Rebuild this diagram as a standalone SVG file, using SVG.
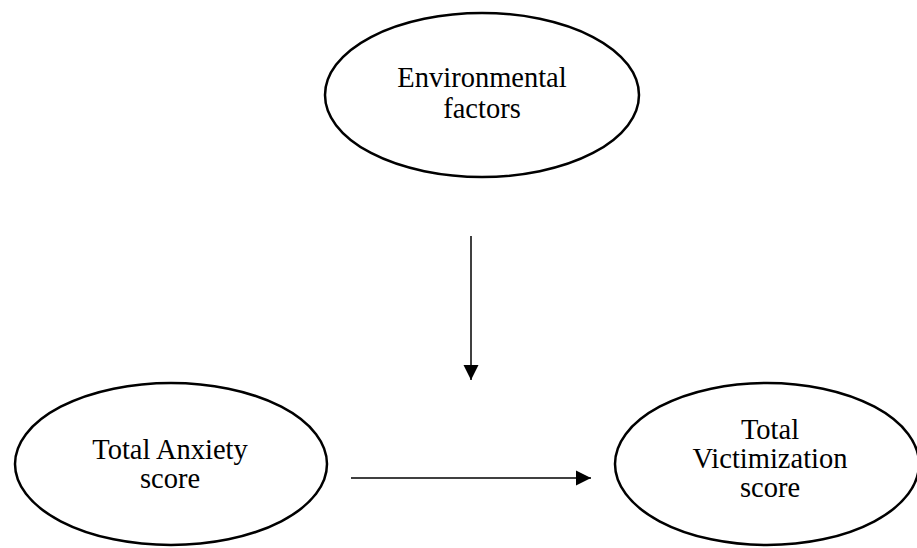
<svg xmlns="http://www.w3.org/2000/svg" width="917" height="548" viewBox="0 0 917 548">
<style>
.node ellipse{fill:#fff;stroke:#000;stroke-width:2.5}
.node text{font-family:"Liberation Serif","Times New Roman",serif;font-size:28.5px;fill:#000;text-anchor:middle}
.edge{stroke:#000;stroke-width:1.5;fill:none}
</style>
<defs>
<marker id="arr" markerUnits="userSpaceOnUse" markerWidth="16" markerHeight="16" refX="15" refY="8" orient="auto">
<path d="M0,0.5 L15,8 L0,15.5 Z" fill="#000"/>
</marker>
</defs>
<rect width="917" height="548" fill="#fff"/>
<g id="env" class="node">
<ellipse cx="482" cy="95" rx="157" ry="82"/>
<text x="482" y="87">Environmental</text>
<text x="482" y="118">factors</text>
</g>
<g id="anx" class="node">
<ellipse cx="171" cy="464" rx="156" ry="81"/>
<text x="170" y="459">Total Anxiety</text>
<text x="170" y="488">score</text>
</g>
<g id="vic" class="node">
<ellipse cx="767" cy="464" rx="152" ry="81"/>
<text x="770" y="439">Total</text>
<text x="770" y="468">Victimization</text>
<text x="770" y="497">score</text>
</g>
<g id="connectors">
<line class="edge" x1="471" y1="236" x2="471" y2="380" marker-end="url(#arr)"/>
<line class="edge" x1="351" y1="478" x2="591" y2="478" marker-end="url(#arr)"/>
</g>
</svg>
